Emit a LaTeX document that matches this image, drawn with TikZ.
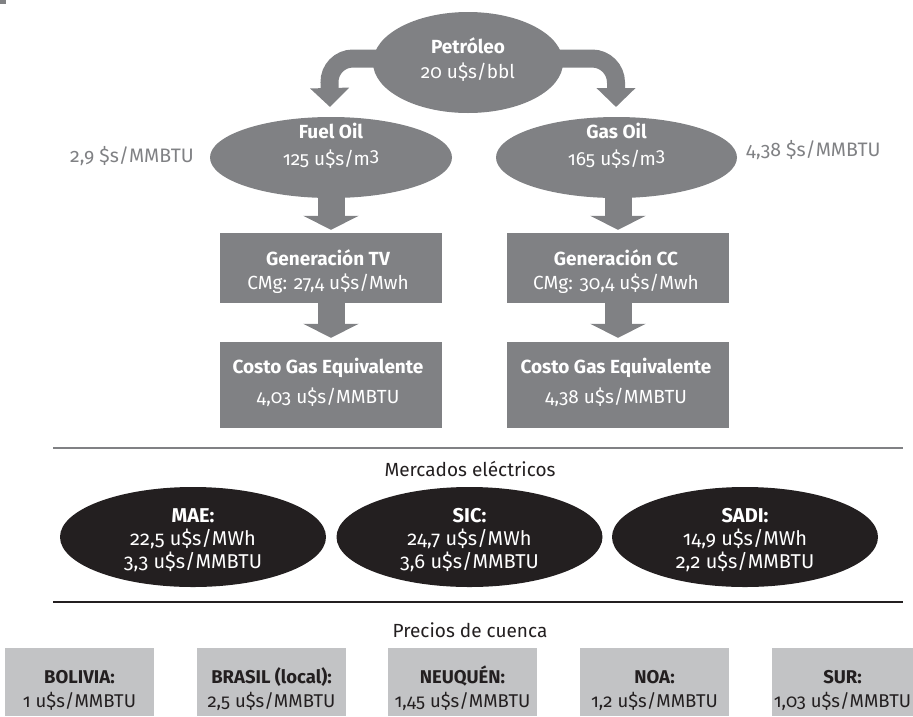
\documentclass[tikz,border=0pt]{standalone}
\usepackage{fontspec}
\setmainfont{Fira Sans}[Numbers=OldStyle]
\usetikzlibrary{arrows.meta,shapes.geometric}
\definecolor{midgray}{HTML}{808184}
\definecolor{inkblack}{HTML}{231F20}
\definecolor{palegray}{HTML}{C2C3C5}
\begin{document}
\begin{tikzpicture}[x=1pt,y=-1pt,
  grayoval/.style={ellipse, fill=midgray, inner sep=0pt},
  graybox/.style={rectangle, fill=midgray, inner sep=0pt},
  blackoval/.style={ellipse, fill=inkblack, inner sep=0pt, minimum width=266pt, minimum height=100pt},
  palebox/.style={rectangle, fill=palegray, inner sep=0pt, minimum height=68pt},
  wline/.style={anchor=base, inner sep=0pt, text=white, font=\fontsize{19}{23}\selectfont},
  wbold/.style={wline, font=\fontsize{19}{23}\selectfont\bfseries},
  eline/.style={anchor=base, inner sep=0pt, text=white, font=\fontsize{20}{24}\selectfont},
  ebold/.style={eline, font=\fontsize{20}{24}\selectfont\bfseries},
  pline/.style={anchor=base, inner sep=0pt, text=inkblack, font=\fontsize{18.5}{23}\selectfont},
  pbold/.style={pline, font=\fontsize{18.5}{23}\selectfont\bfseries},
  sidelabel/.style={text=midgray, inner sep=0pt, anchor=base, font=\fontsize{19.5}{23}\selectfont},
  heading/.style={text=inkblack, inner sep=0pt, font=\fontsize{19}{23}\selectfont},
  bendarrow/.style={midgray, line width=18pt, rounded corners=24pt, -{Triangle[width=38pt,length=19pt]}},
  downarrow/.style={midgray, line width=27pt, -{Triangle[width=55pt,length=14pt]}},
  sepline/.style={line width=#1}
]
\useasboundingbox (0,0) rectangle (913,716);
\fill[midgray] (0,0) rectangle (6,4);

% top ellipses
\node[grayoval, minimum width=190pt, minimum height=101pt] (po) at (468,62.5) {};
\node[grayoval, minimum width=242pt, minimum height=81pt] (fo) at (331,157.5) {};
\node[grayoval, minimum width=241pt, minimum height=81pt] (go) at (616.5,157.5) {};

% boxes
\node[graybox, minimum width=222pt, minimum height=70pt] (tv) at (331,268) {};
\node[graybox, minimum width=222pt, minimum height=70pt] (cc) at (618,268) {};
\node[graybox, minimum width=222pt, minimum height=86pt] (cgl) at (331,385) {};
\node[graybox, minimum width=222pt, minimum height=86pt] (cgr) at (618,385) {};

% arrows
\coordinate (pl) at (392,58.5);
\coordinate (pr) at (546,58.5);
\coordinate (tl) at (330,107);
\coordinate (tr) at (616,107);
\draw[bendarrow] (pl) -- (329,58.5) -- (tl);
\draw[bendarrow] (pr) -- (616,58.5) -- (tr);
\draw[downarrow] ([yshift=5pt]fo.south) -- ([yshift=3pt]tv.north);
\draw[downarrow] ([yshift=5pt]go.south -| cc.north) -- ([yshift=3pt]cc.north);
\draw[downarrow] (tv.south) -- ([yshift=4pt]cgl.north);
\draw[downarrow] (cc.south) -- ([yshift=4pt]cgr.north);

% texts in the gray shapes
\node[wbold] (po1) at (468,53) {Petróleo};
\node[wline] (po2) at (468,78) {20 u\$s/bbl};
\node[wbold] (fo1) at (331,138) {Fuel Oil};
\node[wline] (fo2) at (331,165) {125 u\$s/m\raisebox{0.17em}{3}};
\node[wbold] (go1) at (616.5,138) {Gas Oil};
\node[wline] (go2) at (616.5,165) {165 u\$s/m\raisebox{0.17em}{3}};
\node[wbold] (tv1) at (328,265) {Generación TV};
\node[wline] (tv2) at (328,289) {CMg: 27,4 u\$s/Mwh};
\node[wbold] (cc1) at (616,265) {Generación CC};
\node[wline] (cc2) at (616,289) {CMg: 30,4 u\$s/Mwh};
\node[wbold] (cgl1) at (328,373) {Costo Gas Equivalente};
\node[wline] (cgl2) at (328,403) {4,03 u\$s/MMBTU};
\node[wbold] (cgr1) at (616,373) {Costo Gas Equivalente};
\node[wline] (cgr2) at (616,403) {4,38 u\$s/MMBTU};

% side labels
\node[sidelabel, anchor=base east] (sl) at (194,162) {2,9 \$s/MMBTU};
\node[sidelabel, anchor=base west] (sr) at (746,156) {4,38 \$s/MMBTU};

% separators
\coordinate (l1a) at (53,448);
\coordinate (l1b) at (903,448);
\coordinate (l2a) at (53,602);
\coordinate (l2b) at (903,602);
\draw[midgray, sepline=1.6pt] (l1a) -- (l1b);
\draw[inkblack, sepline=2pt] (l2a) -- (l2b);

\node[heading] (mh) at (470,469) {Mercados eléctricos};
\node[blackoval] (mae) at (193,537) {};
\node[blackoval] (sic) at (469.5,537) {};
\node[blackoval] (sadi) at (745,537) {};
\node[ebold] (mae1) at (193,522) {MAE:};
\node[eline] (mae2) at (193,545) {22,5 u\$s/MWh};
\node[eline] (mae3) at (193,568) {3,3 u\$s/MMBTU};
\node[ebold] (sic1) at (469.5,522) {SIC:};
\node[eline] (sic2) at (469.5,545) {24,7 u\$s/MWh};
\node[eline] (sic3) at (469.5,568) {3,6 u\$s/MMBTU};
\node[ebold] (sadi1) at (745,522) {SADI:};
\node[eline] (sadi2) at (745,545) {14,9 u\$s/MWh};
\node[eline] (sadi3) at (745,568) {2,2 u\$s/MMBTU};

\node[heading] (ph) at (470,630) {Precios de cuenca};
\node[palebox, minimum width=149pt] (bo) at (79.5,682) {};
\node[palebox, minimum width=149pt] (br) at (271.5,682) {};
\node[palebox, minimum width=149pt] (ne) at (462.5,682) {};
\node[palebox, minimum width=149pt] (no) at (654.5,682) {};
\node[palebox, minimum width=141pt] (su) at (842.5,682) {};
\node[pbold] (bo1) at (79.5,683) {BOLIVIA:};
\node[pline] (bo2) at (79.5,707) {1 u\$s/MMBTU};
\node[pbold] (br1) at (271.5,683) {BRASIL (local):};
\node[pline] (br2) at (271.5,707) {2,5 u\$s/MMBTU};
\node[pbold] (ne1) at (462.5,683) {NEUQUÉN:};
\node[pline] (ne2) at (462.5,707) {1,45 u\$s/MMBTU};
\node[pbold] (no1) at (654.5,683) {NOA:};
\node[pline] (no2) at (654.5,707) {1,2 u\$s/MMBTU};
\node[pbold] (su1) at (842.5,683) {SUR:};
\node[pline] (su2) at (842.5,707) {1,03 u\$s/MMBTU};
\end{tikzpicture}
\end{document}
